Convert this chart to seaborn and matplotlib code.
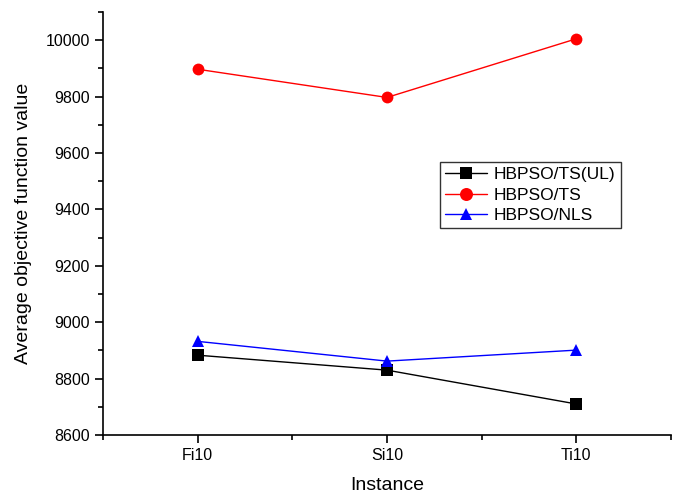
import matplotlib
matplotlib.use("Agg")
import matplotlib.pyplot as plt
import seaborn as sns
import pandas as pd
from matplotlib.ticker import MultipleLocator, FixedLocator

instances = ["Fi10", "Si10", "Ti10"]
ts_ul = [8883, 8830, 8710]
ts = [9897, 9797, 10005]
nls = [8932, 8862, 8901]
series_names = ["HBPSO/TS(UL)", "HBPSO/TS", "HBPSO/NLS"]

sns.set_style("ticks")
plt.rcParams['font.family'] = ['Liberation Sans', 'DejaVu Sans']
for k in ["text.color", "axes.labelcolor", "xtick.color", "ytick.color", "axes.edgecolor"]:
    plt.rcParams[k] = "black"

rows = []
for name, vals in zip(series_names, [ts_ul, ts, nls]):
    for i, (inst, v) in enumerate(zip(instances, vals)):
        rows.append({"pos": i + 1, "Instance": inst, "value": v, "series": name})
df = pd.DataFrame(rows)

fig = plt.figure(figsize=(6.79, 4.97), dpi=100)
ax = fig.add_axes([103/679, 1 - 435/497, (671-103)/679, (435-12)/497])

colors = {"HBPSO/TS(UL)": "black", "HBPSO/TS": "red", "HBPSO/NLS": "blue"}
markers = {"HBPSO/TS(UL)": "s", "HBPSO/TS": "o", "HBPSO/NLS": "^"}
sns.lineplot(data=df, x="pos", y="value", hue="series", style="series",
             palette=colors, markers=markers, dashes=False, markersize=8.5,
             markeredgewidth=0, linewidth=1, ax=ax)

ax.set_xlim(0.5, 3.5)
ax.set_ylim(8600, 10100)
ax.xaxis.set_major_locator(FixedLocator([1, 2, 3]))
ax.set_xticklabels(instances)
ax.xaxis.set_minor_locator(FixedLocator([0.5, 1.5, 2.5, 3.5]))
ax.yaxis.set_major_locator(MultipleLocator(200))
ax.yaxis.set_minor_locator(MultipleLocator(100))
ax.tick_params(which="major", length=6, width=1.2, labelsize=11.5, direction="out",
               colors="black")
ax.tick_params(which="minor", length=3.5, width=1.2, direction="out", colors="black")
for s in ["top", "right"]:
    ax.spines[s].set_visible(False)
for s in ["left", "bottom"]:
    ax.spines[s].set_linewidth(1.2)
    ax.spines[s].set_color("black")
ax.set_xlabel("Instance", fontsize=14, labelpad=10, color="black")
ax.set_ylabel("Average objective function value", fontsize=14, labelpad=10, color="black")

leg = ax.legend(loc="upper left", bbox_to_anchor=((440-103)/568, 1 - (162-12)/423),
                fontsize=12.5, frameon=True, fancybox=False, borderpad=0.3,
                labelspacing=0.3, handlelength=2.4, handletextpad=0.4,
                borderaxespad=0, markerscale=1.1)
leg.get_frame().set_edgecolor("black")
leg.get_frame().set_linewidth(1.0)
for t in leg.get_texts():
    t.set_color("black")

fig.savefig("out.png", dpi=100)
